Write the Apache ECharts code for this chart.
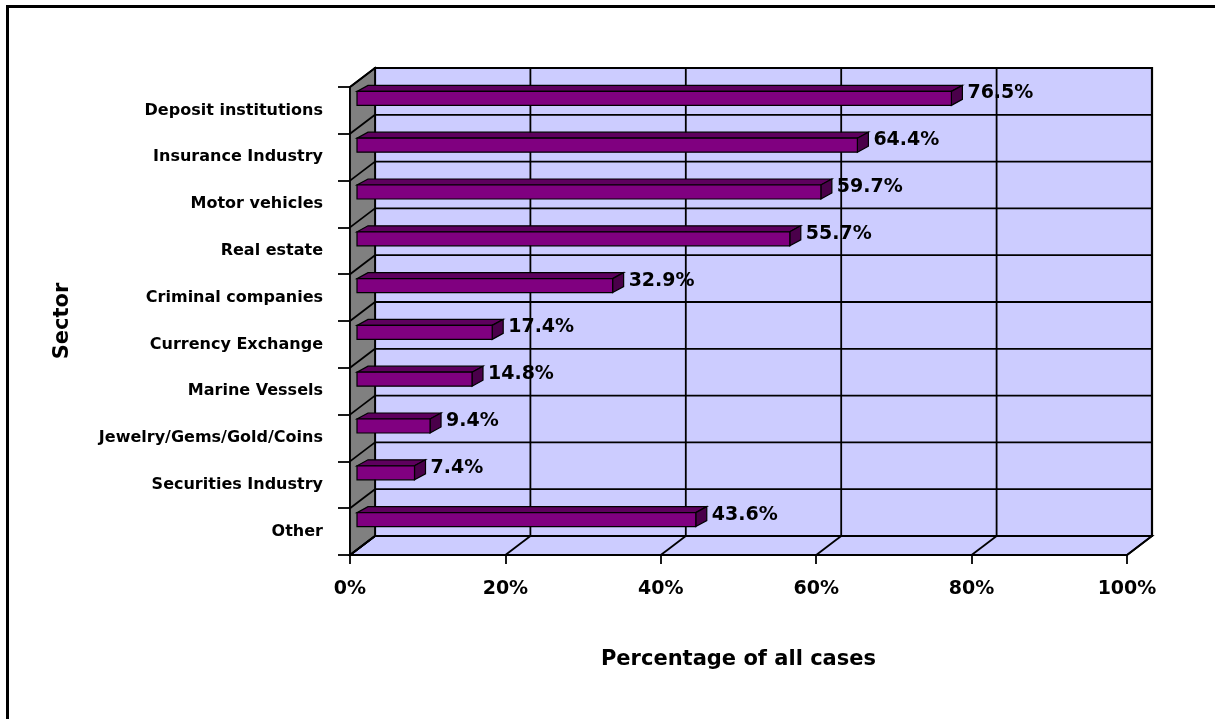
<!DOCTYPE html>
<html>
<head>
<meta charset="utf-8">
<script src="https://cdn.jsdelivr.net/npm/echarts@6/dist/echarts.min.js"></script>
<style>html,body{margin:0;padding:0;background:#fff;}#c{width:1215px;height:719px;}</style>
</head>
<body>
<div id="c"></div>
<script>
var categories = ['Deposit institutions','Insurance Industry','Motor vehicles','Real estate','Criminal companies','Currency Exchange','Marine Vessels','Jewelry/Gems/Gold/Coins','Securities Industry','Other'];
var values = [76.5, 64.4, 59.7, 55.7, 32.9, 17.4, 14.8, 9.4, 7.4, 43.6];
var xTicks = [0, 20, 40, 60, 80, 100];

var FONT = "'Comic Sans MS','DejaVu Sans',sans-serif";
var DX = 25, DY = -19;      // wall depth
var BX = 7, BOFF = -12, BH = 14; // bar placement
var TX = 11, TY = -6;       // bar depth

var chart = echarts.init(document.getElementById('c'));

function wallsRender(params, api) {
  var n = categories.length;
  var band = api.size([0, 1])[1];
  var c0 = api.coord([0, 0]);
  var top = c0[1] - band / 2;
  var bottom = top + band * n;
  var x0 = api.coord([0, 0])[0];
  var x100 = api.coord([100, 0])[0];
  var ln = {stroke: '#000', lineWidth: 1.8};
  var kids = [];
  kids.push({type: 'rect', shape: {x: x0 + DX, y: top + DY, width: x100 - x0, height: bottom - top},
    style: {fill: '#CCCCFF', stroke: '#000', lineWidth: 2.2}});
  kids.push({type: 'polygon', shape: {points: [[x0, bottom], [x100, bottom], [x100 + DX, bottom + DY], [x0 + DX, bottom + DY]]},
    style: {fill: '#CCCCFF', stroke: '#000', lineWidth: 1.8}});
  kids.push({type: 'polygon', shape: {points: [[x0, top], [x0 + DX, top + DY], [x0 + DX, bottom + DY], [x0, bottom]]},
    style: {fill: '#808080', stroke: '#000', lineWidth: 1.8}});
  for (var k = 0; k < xTicks.length; k++) {
    var x = api.coord([xTicks[k], 0])[0];
    if (k > 0 && k < xTicks.length - 1) {
      kids.push({type: 'line', shape: {x1: x + DX, y1: top + DY, x2: x + DX, y2: bottom + DY}, style: ln});
    }
    kids.push({type: 'line', shape: {x1: x, y1: bottom, x2: x + DX, y2: bottom + DY}, style: ln});
  }
  for (var i = 0; i <= n; i++) {
    var y = top + band * i;
    kids.push({type: 'line', shape: {x1: x0 + DX, y1: y + DY, x2: x100 + DX, y2: y + DY}, style: ln});
    kids.push({type: 'line', shape: {x1: x0, y1: y, x2: x0 + DX, y2: y + DY}, style: ln});
  }
  return {type: 'group', children: kids};
}

function barRender(params, api) {
  var idx = api.value(1);
  var v = api.value(0);
  var p0 = api.coord([0, idx]);
  var p1 = api.coord([v, idx]);
  var xa = p0[0] + BX, xb = p1[0] + BX;
  var yc = p0[1] + BOFF;
  var yt = yc - BH / 2, yb = yc + BH / 2;
  var st = {stroke: '#000', lineWidth: 1.2};
  return {type: 'group', children: [
    {type: 'polygon', shape: {points: [[xa, yt], [xb, yt], [xb + TX, yt + TY], [xa + TX, yt + TY]]},
      style: Object.assign({fill: '#5E005E'}, st)},
    {type: 'polygon', shape: {points: [[xb, yt], [xb + TX, yt + TY], [xb + TX, yb + TY], [xb, yb]]},
      style: Object.assign({fill: '#4A004A'}, st)},
    {type: 'rect', shape: {x: xa, y: yt, width: xb - xa, height: BH},
      style: Object.assign({fill: '#800080'}, st)},
    {type: 'text', x: xb + TX + 5, y: yc - 5,
      style: {text: v.toFixed(1) + '%', fill: '#000', font: 'bold 19px ' + FONT, align: 'left', verticalAlign: 'middle'}}
  ]};
}

var option = {
  backgroundColor: '#fff',
  animation: false,
  graphic: [{type: 'rect', left: 5, top: 4, shape: {width: 1240, height: 740}, style: {fill: null, stroke: '#000', lineWidth: 3}, z: 100}],
  grid: {left: 350, right: 88, top: 87, bottom: 164, containLabel: false},
  xAxis: {
    type: 'value', min: 0, max: 100, interval: 20,
    axisLine: {show: true, lineStyle: {color: '#000', width: 1.8}},
    axisTick: {show: true, length: 9, lineStyle: {color: '#000', width: 1.8}},
    splitLine: {show: false},
    axisLabel: {formatter: '{value}%', color: '#000', fontSize: 19, fontWeight: 'bold', fontFamily: FONT, margin: 25},
    name: 'Percentage of all cases', nameLocation: 'middle', nameGap: 94,
    nameTextStyle: {color: '#000', fontSize: 21, fontWeight: 'bold', fontFamily: FONT}
  },
  yAxis: {
    type: 'category', inverse: true, data: categories,
    axisLine: {show: true, lineStyle: {color: '#000', width: 1.8}},
    axisTick: {show: true, length: 12, interval: 0, lineStyle: {color: '#000', width: 1.8}},
    splitLine: {show: false},
    axisLabel: {color: '#000', fontSize: 16, fontWeight: 'bold', fontFamily: FONT, margin: 27, interval: 0},
    name: 'Sector', nameLocation: 'middle', nameRotate: 90, nameGap: 277,
    nameTextStyle: {color: '#000', fontSize: 21, fontWeight: 'bold', fontFamily: FONT}
  },
  series: [
    {type: 'custom', z: 1, renderItem: wallsRender, data: [[0, 0]], silent: true, clip: false},
    {type: 'custom', z: 3, renderItem: barRender, clip: false,
      data: values.map(function (v, i) { return [v, i]; }),
      encode: {x: 0, y: 1}}
  ]
};
chart.setOption(option);
</script>
</body>
</html>
